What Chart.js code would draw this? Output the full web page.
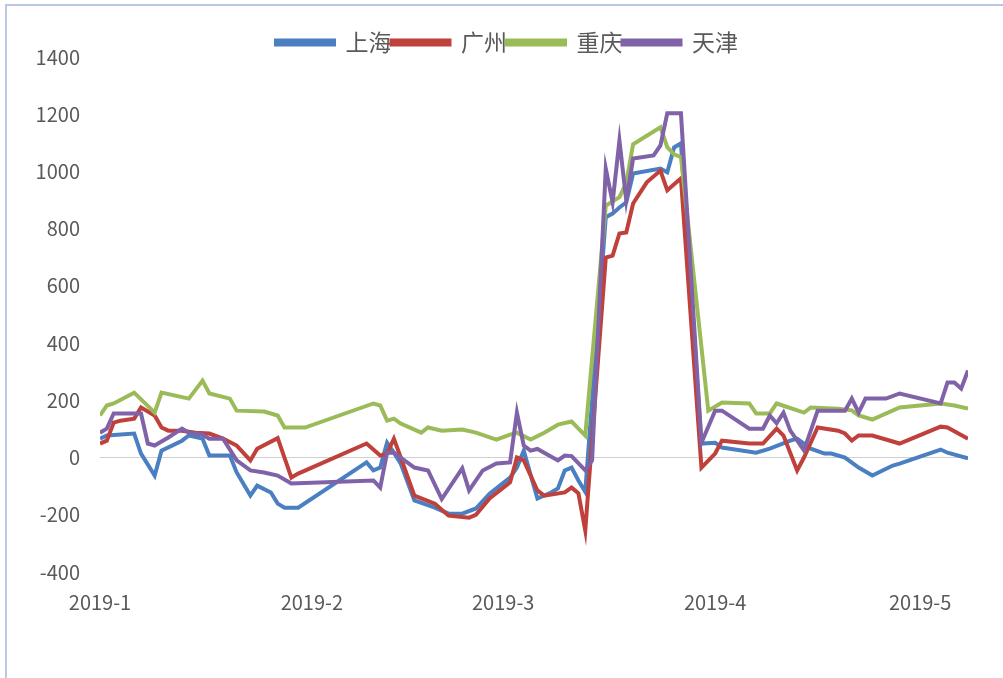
<!DOCTYPE html>
<html>
<head>
<meta charset="utf-8">
<script src="https://cdn.jsdelivr.net/npm/chart.js@4.4.1/dist/chart.umd.min.js"></script>
<style>
  body { margin: 0; background: #fff; }
  #frame { position: absolute; left: 5px; top: 4px; width: 1100px; height: 800px;
           border-left: 2px solid #b9c9e2; border-top: 2px solid #b9c9e2; }
  #chart { position: absolute; left: 0; top: 0; }
</style>
</head>
<body>
<div id="frame"></div>
<canvas id="chart" width="1003" height="678"></canvas>
<script>
// day of year (1 = Jan 1) for month ticks
const monthStarts = [1, 32, 60, 91, 121];
const monthLabels = ['2019-1', '2019-2', '2019-3', '2019-4', '2019-5'];
const seriesNames = ['上海', '广州', '重庆', '天津'];

const shanghaiDays = [1,2,6,7,9,10,13,14,16,17,20,21,23,24,26,27,28,30,40,41,42,43,44,45,47,50,52,54,56,58,61,62,63,64,65,67,68,69,70,71,72,75,76,77,78,79,83,84,85,86,89,91,92,97,99,102,103,105,107,108,110,112,114,117,118,124,125,128];
const shanghaiVals = [66,77,84,14,-63,24,59,77,66,7,7,-52,-133,-98,-122,-161,-175,-175,-17,-45,-35,52,17,-21,-150,-175,-196,-196,-178,-126,-70,-35,24,-60,-143,-122,-108,-45,-35,-80,-120,840,853,874,892,993,1010,997,1084,1098,49,52,35,17,31,59,66,31,14,14,0,-35,-63,-28,-21,28,17,-3];

const guangzhouDays = [1,2,3,4,6,7,9,10,11,13,15,17,19,21,23,24,27,29,30,40,42,43,44,45,47,50,52,55,56,58,61,62,63,65,66,69,70,71,72,75,76,77,78,79,81,83,84,86,89,91,92,96,98,100,101,103,104,106,109,110,111,112,114,118,124,125,128];
const guangzhouVals = [49,59,122,129,136,175,147,105,94,94,87,84,66,42,-10,31,68,-70,-56,49,7,14,66,0,-133,-161,-203,-210,-200,-143,-87,0,-10,-115,-133,-122,-105,-125,-255,699,706,783,787,888,962,1003,934,976,-35,14,59,49,49,101,77,-45,0,105,94,84,59,77,77,49,108,105,66];

const chongqingDays = [1,2,3,6,9,10,14,16,17,20,21,25,27,28,31,41,42,43,44,45,48,49,51,54,56,59,61,62,64,66,68,70,72,75,77,78,79,83,84,85,86,90,92,96,97,99,100,104,105,109,111,112,114,118,124,126,128];
const chongqingVals = [147,182,189,227,157,227,206,269,224,206,164,161,147,105,105,189,182,129,136,119,87,105,94,98,87,63,80,87,63,87,115,126,77,880,910,960,1095,1154,1085,1060,1050,164,192,189,154,154,189,157,175,171,165,147,133,175,189,182,171];

const tianjinDays = [1,2,3,7,8,9,11,13,14,16,17,19,21,23,25,27,29,41,42,43,44,47,49,51,54,55,57,59,61,62,63,64,65,68,69,70,72,73,75,76,77,78,79,82,83,84,86,89,91,92,96,98,99,100,101,102,104,106,110,111,112,113,116,118,124,125,126,127,128];
const tianjinVals = [87,101,154,154,49,42,70,101,87,80,66,66,-10,-45,-52,-63,-91,-80,-105,17,17,-35,-45,-145,-38,-115,-45,-21,-17,157,42,24,30,-10,7,5,-45,-10,1010,892,1108,899,1045,1056,1091,1203,1203,52,164,164,101,101,147,120,157,94,25,164,164,206,157,206,206,224,189,262,262,241,304];

const colors = ['#4a7fc1', '#c0403c', '#9bbb59', '#7f62a8'];
const fontFamily = '"Noto Sans CJK SC", "Noto Sans", sans-serif';

function points(days, vals) {
  return days.map((d, i) => ({ x: d, y: vals[i] }));
}

const allDays = [shanghaiDays, guangzhouDays, chongqingDays, tianjinDays];
const allVals = [shanghaiVals, guangzhouVals, chongqingVals, tianjinVals];

const datasets = seriesNames.map((name, i) => ({
  label: name,
  data: points(allDays[i], allVals[i]),
  borderColor: colors[i],
  backgroundColor: colors[i],
  borderWidth: 4,
  pointRadius: 0,
  tension: 0,
  order: 4 - i   // later series drawn on top, like the original
}));

const ctx = document.getElementById('chart').getContext('2d');
const chart = new Chart(ctx, {
  type: 'line',
  data: { datasets: datasets },
  options: {
    responsive: false,
    animation: false,
    // negative right padding + empty right axis: legend centred like the original
    layout: { padding: { top: 31, right: -11, left: 0, bottom: 0 } },
    plugins: {
      tooltip: { enabled: false },
      legend: {
        position: 'top',
        maxHeight: 26,
        labels: {
          boxWidth: 58,
          boxHeight: 4,
          padding: 0,
          color: '#595959',
          font: { family: fontFamily, size: 23 },
          sort: (a, b) => a.datasetIndex - b.datasetIndex
        }
      }
    },
    scales: {
      x: {
        type: 'linear',
        min: 1,
        max: 128,
        grid: { display: false },
        border: { display: false },
        afterBuildTicks: (scale) => {
          scale.ticks = monthStarts.map(v => ({ value: v }));
        },
        afterFit: (scale) => { scale.height = 106; },
        ticks: {
          padding: 10,
          color: '#595959',
          maxRotation: 0,
          autoSkip: false,
          font: { family: fontFamily, size: 20 },
          callback: (value) => monthLabels[monthStarts.indexOf(value)]
        }
      },
      y: {
        min: -400,
        max: 1400,
        afterFit: (scale) => { scale.width = 100; },
        border: { display: false },
        grid: {
          drawTicks: false,
          lineWidth: 1,
          color: (c) => (c.tick && c.tick.value === 0) ? '#d0d0d0' : 'rgba(0,0,0,0)'
        },
        ticks: {
          stepSize: 200,
          padding: 20,
          color: '#595959',
          font: { family: fontFamily, size: 20 },
          callback: (value) => String(value)
        }
      },
      yRight: {
        position: 'right',
        min: -400,
        max: 1400,
        afterFit: (scale) => { scale.width = 46; },
        border: { display: false },
        grid: { display: false },
        ticks: { display: false }
      }
    }
  }
});
</script>
</body>
</html>
